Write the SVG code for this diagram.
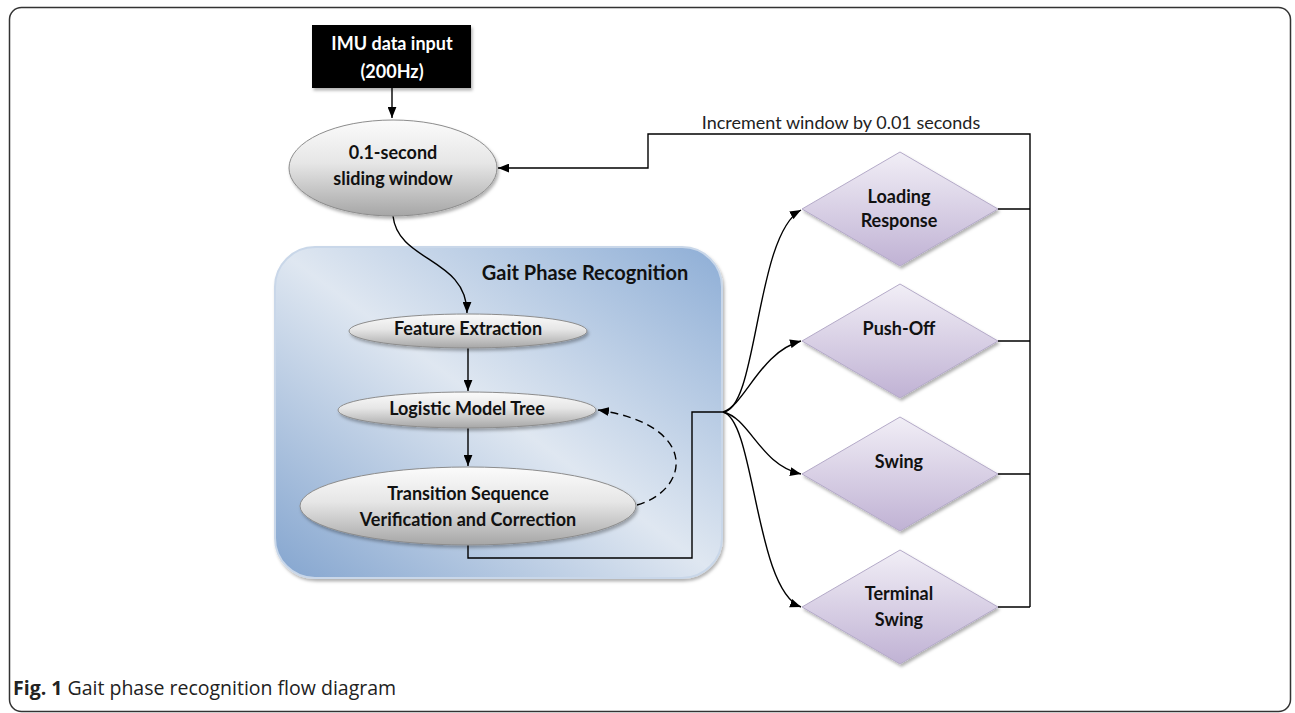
<svg xmlns="http://www.w3.org/2000/svg" width="1295" height="713" viewBox="0 0 1295 713">
<style>
.t{font-family:Lato,"Liberation Sans",sans-serif;font-weight:bold;font-size:18px;fill:#111;text-anchor:middle}
.w{fill:#fff}
.el{fill:url(#gray);stroke:#8c8c8c;stroke-width:1;filter:url(#sh)}
.dm{fill:url(#lav);stroke:#b4aac8;stroke-width:1;filter:url(#sh)}
.c{fill:none;stroke:#000;stroke-width:1.4}
</style>
<defs>
<linearGradient id="gray" x1="0" y1="0" x2="0" y2="1">
<stop offset="0" stop-color="#fbfbfb"/><stop offset="0.45" stop-color="#e6e6e6"/><stop offset="1" stop-color="#a6a6a6"/>
</linearGradient>
<linearGradient id="lav" x1="0" y1="0" x2="0" y2="1">
<stop offset="0" stop-color="#f1eef6"/><stop offset="1" stop-color="#c0b2d4"/>
</linearGradient>
<linearGradient id="blue" x1="1" y1="0" x2="0" y2="1">
<stop offset="0" stop-color="#8eaed6"/><stop offset="0.5" stop-color="#dfe7f1"/><stop offset="1" stop-color="#84a5cf"/>
</linearGradient>
<filter id="sh" x="-10%" y="-10%" width="130%" height="140%">
<feDropShadow dx="1.5" dy="2.5" stdDeviation="1.5" flood-color="#000" flood-opacity="0.3"/>
</filter>
<marker id="ah" viewBox="0 0 10 8" refX="10" refY="4" markerWidth="11" markerHeight="9" orient="auto" markerUnits="userSpaceOnUse">
<path d="M0,0 L10,4 L0,8 z" fill="#000"/>
</marker>
</defs>
<rect x="9.5" y="7.5" width="1281" height="704" rx="12" fill="#fff" stroke="#333" stroke-width="1.5"/>
<g id="gait-phase-recognition">
<rect x="275" y="247" width="447" height="331" rx="40" fill="url(#blue)" stroke="#c9d7e9" stroke-width="2" filter="url(#sh)"/>
<text class="t" x="585" y="280" style="font-size:20px">Gait Phase Recognition</text>
</g>
<g id="connectors">
<path class="c" d="M392,88 V118" marker-end="url(#ah)"/>
<path class="c" d="M393,216 C398,262 467,258 467,313" marker-end="url(#ah)"/>
<path class="c" d="M468,347 V391" marker-end="url(#ah)"/>
<path class="c" d="M468,427 V466" marker-end="url(#ah)"/>
<path class="c" d="M637,505 C690,490 700,425 598,410" stroke-dasharray="8,5" marker-end="url(#ah)"/>
<path class="c" d="M468,545 V558 H692 V412 H723"/>
<path class="c" d="M723,412 C758,410 755,235 801,210" marker-end="url(#ah)"/>
<path class="c" d="M723,412 C745,405 760,352 801,341" marker-end="url(#ah)"/>
<path class="c" d="M723,412 C750,418 760,465 801,474" marker-end="url(#ah)"/>
<path class="c" d="M723,412 C755,420 755,590 801,607" marker-end="url(#ah)"/>
<path class="c" d="M998,209 H1030 M998,341 H1030 M998,474 H1030 M998,607 H1030"/>
<path class="c" d="M1030,607 V134 H648 V168 H498" marker-end="url(#ah)"/>
<text x="841" y="129" style="font-family:Lato,'Liberation Sans',sans-serif;font-size:18px;fill:#222;text-anchor:middle">Increment window by 0.01 seconds</text>
</g>
<g id="imu-input">
<rect x="312" y="25" width="159" height="63" fill="#000" filter="url(#sh)"/>
<text class="t w" x="392" y="50">IMU data input</text>
<text class="t w" x="392" y="78">(200Hz)</text>
</g>
<g id="sliding-window">
<ellipse class="el" cx="393" cy="168" rx="104" ry="48"/>
<text class="t" x="393" y="159">0.1-second</text>
<text class="t" x="393" y="185">sliding window</text>
</g>
<g id="feature-extraction">
<ellipse class="el" cx="468" cy="331" rx="119" ry="17"/>
<text class="t" x="468" y="335">Feature Extraction</text>
</g>
<g id="logistic-model-tree">
<ellipse class="el" cx="467" cy="410" rx="129" ry="18"/>
<text class="t" x="467" y="415">Logistic Model Tree</text>
</g>
<g id="transition-sequence">
<ellipse class="el" cx="468" cy="506" rx="168" ry="39"/>
<text class="t" x="468" y="500">Transition Sequence</text>
<text class="t" x="468" y="526">Verification and Correction</text>
</g>
<g id="loading-response">
<polygon class="dm" points="900,152 998,209 900,266 802,209"/>
<text class="t" x="899" y="203">Loading</text>
<text class="t" x="899" y="227">Response</text>
</g>
<g id="push-off">
<polygon class="dm" points="900,284 998,341 900,398 802,341"/>
<text class="t" x="899" y="335">Push-Off</text>
</g>
<g id="swing">
<polygon class="dm" points="900,417 998,474 900,531 802,474"/>
<text class="t" x="899" y="468">Swing</text>
</g>
<g id="terminal-swing">
<polygon class="dm" points="900,550 998,607 900,664 802,607"/>
<text class="t" x="899" y="600">Terminal</text>
<text class="t" x="899" y="626">Swing</text>
</g>
<g id="caption">
<text x="13" y="695" style="font-family:'Open Sans','Liberation Sans',sans-serif;font-size:19.5px;fill:#222"><tspan font-weight="bold">Fig. 1</tspan> Gait phase recognition flow diagram</text>
</g>
</svg>
